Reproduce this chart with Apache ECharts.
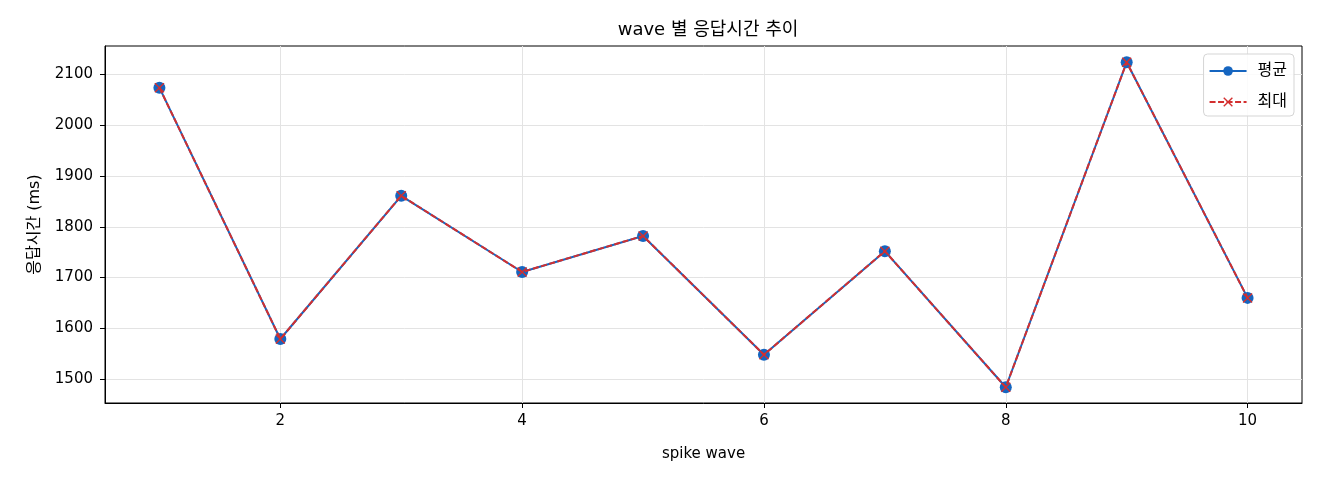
<!DOCTYPE html>
<html>
<head>
<meta charset="utf-8">
<script src="https://cdn.jsdelivr.net/npm/echarts@6/dist/echarts.min.js"></script>
<style>
  html, body { margin: 0; padding: 0; background: #fff; }
  #chart { width: 1320px; height: 480px; }
</style>
</head>
<body>
<div id="chart"></div>
<script>
// data
var waves = [1, 2, 3, 4, 5, 6, 7, 8, 9, 10];
var avgMs = [2074, 1579, 1861, 1711, 1782, 1548, 1752, 1484, 2124, 1660];
var maxMs = [2074, 1579, 1861, 1711, 1782, 1548, 1752, 1484, 2124, 1660];
var xTicks = [2, 4, 6, 8, 10];
var yTicks = [1500, 1600, 1700, 1800, 1900, 2000, 2100];

var font = '"DejaVu Sans", "Noto Sans CJK KR", sans-serif';
var blue = "#1565C0", red = "#D32F2F", grid = "#E3E3E3";
var crossPath = "path://M1,0L5,4L9,0L10,1L6,5L10,9L9,10L5,6L1,10L0,9L4,5L0,1Z";

function pairs(xs, ys) {
  return xs.map(function (x, i) { return [x, ys[i]]; });
}

var axisCommon = {
  axisLine: { show: true, onZero: false, lineStyle: { color: "#000", width: 1 } },
  axisTick: { show: true, inside: false, length: 5, lineStyle: { color: "#000" } },
  splitLine: { show: true, lineStyle: { color: grid, width: 1 } }
};
var labelStyle = { color: "#000", fontFamily: font, fontSize: 15, formatter: function (v) { return String(v); } };

var chart = echarts.init(document.getElementById("chart"), null, { renderer: "canvas" });
chart.setOption({
  animation: false,
  backgroundColor: "#fff",
  textStyle: { fontFamily: font },
  title: {
    text: "wave 별 응답시간 추이",
    left: 703, top: 16, textAlign: "center",
    textStyle: { color: "#000", fontFamily: font, fontSize: 18, fontWeight: "normal" }
  },
  grid: {
    left: 105, right: 18, top: 46, bottom: 77,
    show: true, borderColor: "#000", borderWidth: 1, backgroundColor: "transparent"
  },
  legend: {
    orient: "vertical", right: 26, top: 54,
    itemWidth: 37, itemHeight: 12, itemGap: 15,
    padding: [9, 7, 6, 5],
    borderColor: "#D5D5D5", borderWidth: 1, borderRadius: 4,
    backgroundColor: "rgba(255,255,255,0.85)",
    textStyle: { color: "#000", fontFamily: font, fontSize: 16, padding: [0, 0, 0, 6] },
    data: ["평균", "최대"]
  },
  xAxis: Object.assign({}, axisCommon, {
    type: "value", min: 0.55, max: 10.45,
    name: "spike wave", nameLocation: "middle", nameGap: 44,
    nameTextStyle: { color: "#000", fontFamily: font, fontSize: 15 },
    axisTick: Object.assign({}, axisCommon.axisTick, { customValues: xTicks }),
    axisLabel: Object.assign({ customValues: xTicks, margin: 11 }, labelStyle)
  }),
  yAxis: Object.assign({}, axisCommon, {
    type: "value", min: 1453, max: 2156,
    name: "응답시간 (ms)", nameLocation: "middle", nameGap: 62, nameRotate: 90,
    nameTextStyle: { color: "#000", fontFamily: font, fontSize: 16 },
    axisTick: Object.assign({}, axisCommon.axisTick, { customValues: yTicks }),
    axisLabel: Object.assign({ customValues: yTicks, margin: 12 }, labelStyle)
  }),
  series: [
    {
      name: "평균", type: "line", data: pairs(waves, avgMs),
      symbol: "circle", symbolSize: 12, showAllSymbol: true,
      lineStyle: { color: blue, width: 2 },
      itemStyle: { color: blue, borderWidth: 0 },
      emphasis: { disabled: true }, z: 2
    },
    {
      name: "최대", type: "line", data: pairs(waves, maxMs),
      symbol: crossPath, symbolSize: 10, showAllSymbol: true,
      lineStyle: { color: red, width: 2, type: [6, 2.5] },
      itemStyle: { color: red, borderWidth: 0 },
      emphasis: { disabled: true }, z: 3
    }
  ]
});
</script>
</body>
</html>
